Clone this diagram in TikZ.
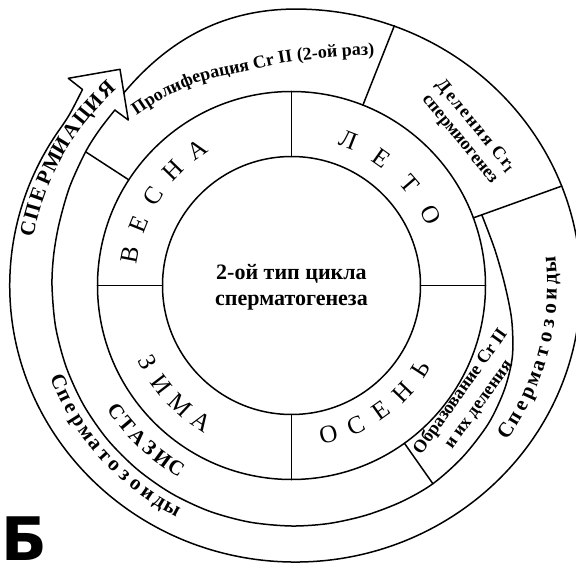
\documentclass[tikz,border=0pt]{standalone}
\usepackage{fontspec}
\setmainfont{Liberation Serif}
\newfontfamily\heavyfont{DejaVu Sans}
\usetikzlibrary{decorations.text}
\newcommand\prolfont{\bfseries\fontsize{18}{18}\selectfont}
\newcommand\placearc[7]{%
  \foreach \ch [count=\k from 0] in {#7} {%
    \pgfmathsetmacro\ang{#3+\k*(#4)}%
    \node[#2, rotate=\ang+(#6)] (#1\k) at (\ang:#5) {\ch};
  }}
\begin{document}
\begin{tikzpicture}[x=1pt, y=1pt, line width=1.5pt, line join=round, line cap=round,
  season/.style={inner sep=0pt, text height=0.66em, text depth=0pt, font=\fontsize{25}{25}\selectfont},
  capband/.style={inner sep=0pt, text height=0.66em, text depth=0pt, font=\bfseries\fontsize{21}{21}\selectfont},
  lowband/.style={inner sep=0pt, text height=0.46em, text depth=0pt, font=\bfseries\fontsize{21}{21}\selectfont},
  blocktext/.style={inner sep=0pt, align=center, font=\bfseries\fontsize{18}{20}\selectfont}]
\useasboundingbox (-291.5,-277.5) rectangle (284.5,285.5);
\fill[white] (-291.5,-277.5) rectangle (284.5,285.5);

% inner circle and season ring
\draw (0,0) circle[radius=129pt];
\draw (0,0) circle[radius=194pt];
\draw (90:129pt) -- (90:194pt);
\draw (180:129pt) -- (180:194pt);
\draw (0:129pt) -- (0:194pt);
\draw (270:129pt) -- (270:194pt);

% arrow head
\coordinate (ashO) at (-209,196);
\coordinate (abO) at (-223.2,207.2);
\coordinate (atip) at (-171.5,216.2);
\coordinate (abI) at (-163.2,165.5);
\coordinate (ashI) at (-224.8:249pt);
\coordinate (pstart) at (-167.7,192.5);

% outer boundary: from the arrow head over the top, round to the arrow shaft
\draw (pstart) .. controls (-116.3,253.8) and (-56.3,278.7) .. (13.7,276.3)
  arc[start angle=88, end angle=-215, x radius=285.5pt, y radius=276.5pt]
  .. controls (-221.9,170.6) .. (ashO) -- (abO) -- (atip) -- (abI) -- (ashI);
% inner spiral: Obrazovanie border, stasis ring, arrow shaft
\draw plot[smooth, tension=0.5] coordinates {(20.3:203pt) (10:206.5pt) (0:213.5pt) (-9:223pt)
  (-17.8:232pt) (-26:237pt) (-35:240.5pt) (-45:242.3pt) (-54.5:243.5pt) (-63:242.6pt)
  (-72:241.5pt) (-81:240.9pt) (-90:240.5pt) (-100:240.3pt) (-110:240.2pt) (-120:240.1pt)
  (-130:240pt) (-140:240pt) (-150:239.8pt) (-160:239.6pt) (-170:239.5pt) (-180:239.5pt)
  (-187.5:239.8pt) (-195:240.5pt) (-204:242.8pt) (-213:245.5pt) (-219:247.2pt) (-224.8:249pt)};

% dividers of the outer ring
\draw (147:194pt) -- (147:245.5pt);
\draw (68.4:194pt) -- (68.4:279.5pt);
\draw (20.4:194pt) -- (20.2:288pt);
\draw (-54.4:194pt) -- (-54.5:243.5pt);

% centre text
\node[font=\bfseries\fontsize{22}{26}\selectfont, align=center, inner sep=0pt] (title) at (0,-2) {2-ой тип цикла\\сперматогенеза};

% seasons
\placearc{vesna}{season}{169.2}{-11.125}{160pt}{-90}{В,Е,С,Н,А}
\placearc{leto}{season}{68.6}{-13.93}{151pt}{-90}{Л,Е,Т,О}
\placearc{osen}{season}{-76.1}{10.78}{158.7pt}{90}{О,С,Е,Н,Ь}
\placearc{zima}{season}{-152.1}{9.53}{168pt}{90}{З,И,М,А}

% outer texts
\placearc{spermiac}{capband}{167.9}{-3.833}{266pt}{-90}{С,П,Е,Р,М,И,А,Ц,И,Я}
\placearc{stazis}{capband}{-144.2}{4.38}{219.5pt}{90}{С,Т,А,З,И,С}
\placearc{spzL}{lowband}{-157.5}{3.275}{256pt}{90}{С,п,е,р,м,а,т,о,з,о,и,д,ы}
\placearc{spzR}{lowband}{-34}{3.208}{263pt}{90}{С,п,е,р,м,а,т,о,з,о,и,д,ы}

\path[decorate, decoration={text along path, text={|\prolfont|Пролиферация Cr II (2-ой раз)}}]
  plot[smooth, tension=0.55] coordinates {(-155,170) (-125,189) (-90,204) (-45,214.5) (1.5,224) (70,230) (140,230)};

\node[blocktext, rotate=-50.5] (delenia) at (175.9,152.6) {{\addfontfeature{LetterSpace=10}Деления Cr\textsubscript{I}}\\спермиогенез};
\node[blocktext, rotate=54.5, font=\bfseries\fontsize{18}{22}\selectfont] (obraz) at (178,-112.5) {Образование Cr II\\и их деления};

\node[font=\heavyfont\bfseries\fontsize{60}{60}\selectfont, anchor=base west, inner sep=0pt] (letterB) at (-291,-274.5) {Б};
\end{tikzpicture}
\end{document}
